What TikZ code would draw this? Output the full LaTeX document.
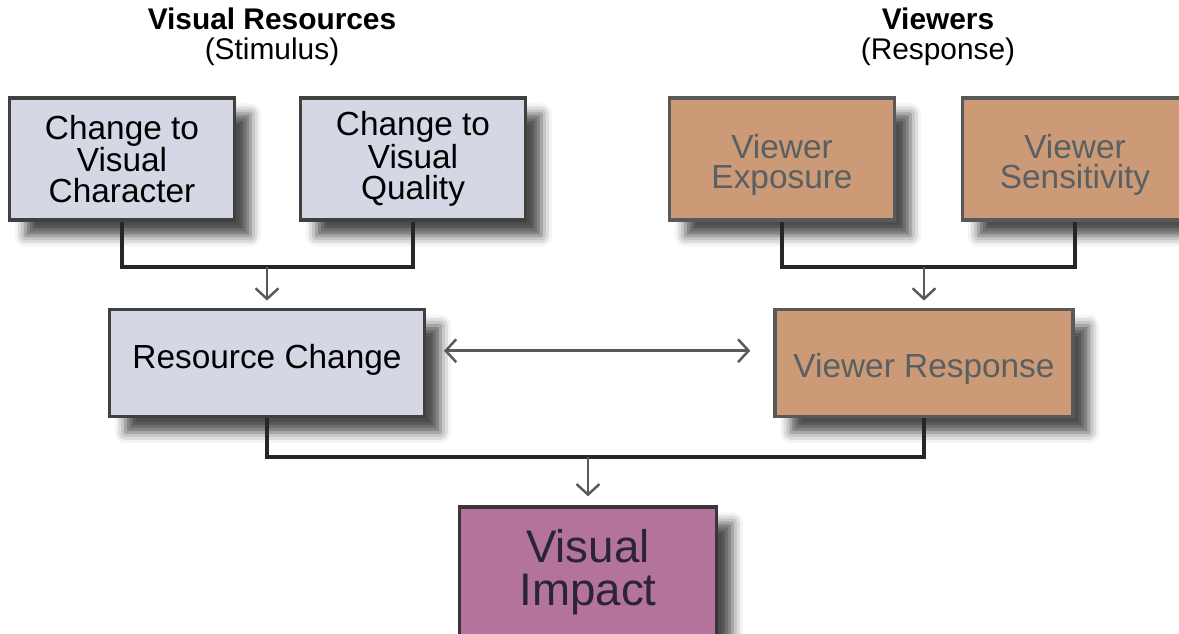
\documentclass[tikz,border=0pt]{standalone}
\usepackage{fontspec}
\setmainfont{Liberation Sans}
\usepackage{tikz}
\usetikzlibrary{arrows.meta,positioning,shadows.blur}
\definecolor{resfill}{RGB}{213,215,229}
\definecolor{viewfill}{RGB}{205,154,119}
\definecolor{impfill}{RGB}{179,115,156}
\definecolor{viewtext}{RGB}{88,96,99}
\definecolor{impedge}{RGB}{60,52,60}
\definecolor{imptext}{RGB}{43,36,56}

\begin{document}
\begin{tikzpicture}[x=0.02cm, y=-0.02cm, >={Straight Barb[length=6pt,width=13pt]},
  box/.style={draw=black!75, line width=2.2pt, align=center, inner sep=2pt,
    font=\fontsize{19}{17.6}\selectfont,
    blur shadow={shadow xshift=9pt, shadow yshift=-9pt, shadow blur radius=6pt, shadow opacity=70}},
  res/.style={box, fill=resfill, minimum width=4.5cm, minimum height=2.44cm},
  view/.style={box, fill=viewfill, draw=black!65, text=viewtext, text height=38pt,
    minimum width=4.5cm, minimum height=2.44cm},
  link/.style={line width=2pt, black!85},
  arr/.style={->, line width=1.4pt, black!65},
  head/.style={align=center, font=\fontsize{17}{17}\selectfont}]
\useasboundingbox (0,0) rectangle (1179,633);
\node[head] (vres) at (272,37) {\textbf{Visual Resources}\\(Stimulus)};
\node[head] (vwrs) at (938,37) {\textbf{Viewers}\\(Response)};
\node[res]  (char) at (122,159)  {Change to\\Visual\\Character};
\node[res]  (qual) at (413,159)  {Change to\\Visual\\Quality};
\node[view] (expo) at (782,159)  {Viewer\\Exposure};
\node[view] (sens) at (1075,159) {Viewer\\Sensitivity};
\node[res, minimum width=6.3cm, minimum height=2.14cm, text depth=7.5pt] (rc) at (267,363) {Resource Change};
\node[view, minimum width=5.96cm, minimum height=2.14cm, text height=20pt] (vr) at (924,363) {Viewer Response};
\node[box, fill=impfill, draw=impedge, text=imptext, minimum width=5.14cm, minimum height=2.6cm,
  font=\fontsize{26}{24.4}\selectfont] (imp) at (588,572) {Visual\\Impact};
\draw[link] (char.south) -- (char.south |- 0,267) -| (qual.south);
\draw[link] (expo.south) -- (expo.south |- 0,267) -| (sens.south);
\draw[arr] (rc.north |- 0,267) -- ([yshift=4pt]rc.north);
\draw[arr] (vr.north |- 0,267) -- ([yshift=4pt]vr.north);
\draw[arr, <->] ([xshift=10pt,yshift=7pt]rc.east) -- ([xshift=-13pt,yshift=7pt]vr.west);
\draw[link] (rc.south) -- (rc.south |- 0,457) -| (vr.south);
\draw[arr] (imp.north |- 0,457) -- ([yshift=5pt]imp.north);
\end{tikzpicture}
\end{document}
